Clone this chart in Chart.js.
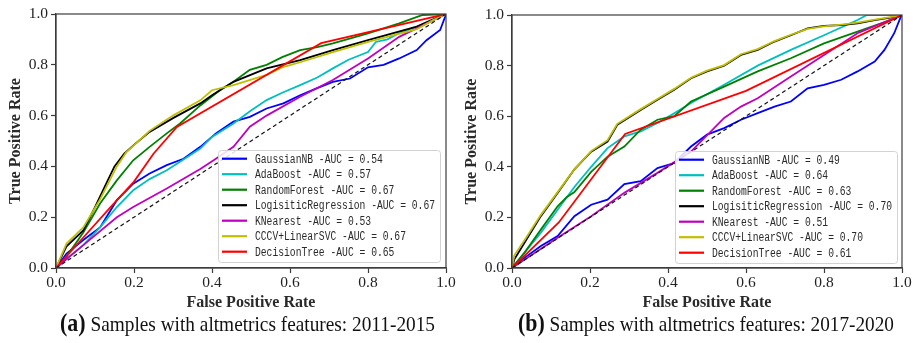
<!DOCTYPE html>
<html><head><meta charset="utf-8">
<script src="https://cdn.jsdelivr.net/npm/chart.js@4.4.0/dist/chart.umd.min.js"></script>
<style>
html,body{margin:0;padding:0;background:#fff;width:916px;height:343px;overflow:hidden;}
.panel{position:absolute;top:0;width:458px;height:312px;}
#pa{left:0} #pb{left:458px}
.cap{position:absolute;top:309px;white-space:nowrap;font-family:"Liberation Serif",serif;color:#111;transform-origin:0 0;line-height:28px;}
.cap b{font-size:25px;}
.cap span{font-size:22px;}
</style></head><body>
<div class="panel" id="pa"><canvas id="ca" width="458" height="312"></canvas></div>
<div class="panel" id="pb"><canvas id="cb" width="458" height="312"></canvas></div>
<div class="cap" id="capA"><b>(a)</b><span> Samples with altmetrics features: 2011-2015</span></div>
<div class="cap" id="capB"><b>(b)</b><span> Samples with altmetrics features: 2017-2020</span></div>
<script>
// ---------- data ----------
const modelNames = ['GaussianNB','AdaBoost','RandomForest','LogisiticRegression','KNearest','CCCV+LinearSVC','DecisionTree'];
const aucA = ['0.54','0.57','0.67','0.67','0.53','0.67','0.65'];
const aucB = ['0.49','0.64','0.63','0.70','0.51','0.70','0.61'];
const tickLabels = ['0.0','0.2','0.4','0.6','0.8','1.0'];
const diagFpr = [0,1];
const diagTpr = [0,1];

// panel (a) 2011-2015
const aGnbFpr = [0,0.027,0.07,0.113,0.156,0.198,0.24,0.284,0.327,0.37,0.41,0.455,0.497,0.54,0.583,0.626,0.668,0.71,0.754,0.80,0.84,0.88,0.925,0.95,0.985,0.998,1];
const aGnbTpr = [0,0.057,0.11,0.16,0.267,0.332,0.372,0.405,0.43,0.477,0.53,0.576,0.595,0.628,0.648,0.68,0.707,0.733,0.746,0.79,0.80,0.825,0.858,0.897,0.937,0.99,1];
const aAdaFpr = [0,0.03,0.07,0.113,0.156,0.198,0.24,0.284,0.33,0.37,0.40,0.455,0.50,0.54,0.58,0.626,0.67,0.71,0.75,0.80,0.82,0.85,0.88,0.925,0.96,1];
const aAdaTpr = [0,0.04,0.09,0.16,0.24,0.306,0.35,0.385,0.43,0.47,0.516,0.569,0.62,0.661,0.69,0.72,0.75,0.786,0.82,0.85,0.89,0.90,0.925,0.95,0.975,1];
const aRfFpr = [0,0.027,0.07,0.113,0.156,0.198,0.24,0.284,0.318,0.37,0.42,0.455,0.497,0.54,0.58,0.626,0.67,0.71,0.80,0.88,0.94,1];
const aRfTpr = [0,0.045,0.14,0.254,0.345,0.424,0.477,0.53,0.569,0.64,0.70,0.733,0.78,0.80,0.83,0.858,0.87,0.884,0.924,0.963,0.996,1];
const aLrFpr = [0,0.027,0.07,0.1,0.125,0.15,0.175,0.2,0.24,0.30,0.37,0.40,0.455,0.54,0.626,0.71,0.80,0.925,1];
const aLrTpr = [0,0.085,0.148,0.24,0.32,0.4,0.45,0.485,0.536,0.59,0.648,0.68,0.733,0.786,0.818,0.858,0.897,0.95,1];
const aKnnFpr = [0,0.07,0.156,0.198,0.284,0.37,0.41,0.455,0.497,0.54,0.626,0.71,0.80,0.88,1];
const aKnnTpr = [0,0.09,0.2,0.24,0.313,0.39,0.43,0.477,0.556,0.60,0.674,0.74,0.825,0.91,1];
const aSvcFpr = [0,0.027,0.07,0.113,0.156,0.18,0.24,0.30,0.37,0.40,0.455,0.54,0.58,0.626,0.71,0.80,0.925,0.967,1];
const aSvcTpr = [0,0.096,0.16,0.27,0.40,0.455,0.54,0.60,0.66,0.70,0.72,0.76,0.79,0.81,0.85,0.89,0.94,0.976,1];
const aDtFpr = [0,0.07,0.14,0.2,0.25,0.31,0.68,1];
const aDtTpr = [0,0.12,0.24,0.34,0.45,0.555,0.885,1];

// panel (b) 2017-2020
const bGnbFpr = [0,0.032,0.074,0.117,0.16,0.203,0.245,0.288,0.33,0.373,0.416,0.459,0.50,0.544,0.587,0.63,0.673,0.715,0.758,0.80,0.844,0.886,0.93,0.955,0.98,0.997,1];
const bGnbTpr = [0,0.04,0.087,0.126,0.205,0.25,0.27,0.332,0.343,0.395,0.415,0.48,0.527,0.553,0.586,0.612,0.638,0.658,0.71,0.724,0.744,0.777,0.816,0.862,0.928,0.993,1];
const bAdaFpr = [0,0.074,0.117,0.16,0.203,0.245,0.288,0.33,0.373,0.416,0.459,0.544,0.63,0.715,0.80,0.886,0.91,1];
const bAdaTpr = [0,0.14,0.23,0.32,0.40,0.474,0.52,0.54,0.573,0.612,0.652,0.724,0.80,0.862,0.92,0.98,1,1];
const bRfFpr = [0,0.032,0.074,0.117,0.14,0.16,0.203,0.245,0.288,0.33,0.373,0.416,0.459,0.544,0.63,0.715,0.80,0.886,0.97,1];
const bRfTpr = [0,0.06,0.152,0.244,0.28,0.30,0.38,0.44,0.48,0.547,0.586,0.60,0.658,0.717,0.777,0.829,0.888,0.934,0.98,1];
const bLrFpr = [0,0.006,0.032,0.074,0.117,0.16,0.203,0.245,0.27,0.33,0.373,0.416,0.459,0.50,0.544,0.587,0.63,0.673,0.715,0.758,0.80,0.844,0.886,0.93,0.97,1];
const bLrTpr = [0,0.034,0.1,0.205,0.297,0.39,0.46,0.50,0.566,0.625,0.665,0.705,0.75,0.777,0.80,0.842,0.862,0.895,0.92,0.947,0.957,0.96,0.967,0.98,0.99,1];
const bKnnFpr = [0,0.117,0.203,0.288,0.373,0.459,0.544,0.587,0.63,0.715,0.80,0.886,1];
const bKnnTpr = [0,0.12,0.205,0.297,0.376,0.46,0.593,0.638,0.671,0.757,0.842,0.928,1];
const bSvcFpr = [0,0.006,0.032,0.074,0.117,0.16,0.203,0.245,0.27,0.33,0.373,0.416,0.459,0.50,0.544,0.587,0.63,0.673,0.715,0.758,0.80,0.844,0.886,0.93,0.97,1];
const bSvcTpr = [0,0.05,0.11,0.21,0.30,0.39,0.462,0.505,0.57,0.628,0.668,0.708,0.752,0.78,0.802,0.845,0.865,0.897,0.922,0.945,0.955,0.962,0.97,0.982,0.992,1];
const bDtFpr = [0,0.12,0.29,0.6,1];
const bDtTpr = [0,0.18,0.53,0.70,1];

// ---------- styling ----------
const lineColors = ['#0000ff','#00bfbf','#008000','#000000','#bf00bf','#bfbf00','#ff0000'];
const serif = '"Liberation Serif","Times New Roman",serif';

function pts(xs, ys){ return xs.map((x,i)=>({x:x, y:ys[i]})); }

const framePlugin = {
  id:'frame',
  afterDatasetsDraw(chart, args, o){
    const ctx = chart.ctx, a = chart.chartArea;
    ctx.save();
    ctx.strokeStyle = '#3c3c3c'; ctx.lineWidth = 1.2;
    ctx.strokeRect(a.left, a.top, a.right-a.left, a.bottom-a.top);
    const bx = a.left + o.dx, by = a.top + o.dy;
    ctx.beginPath();
    ctx.roundRect(bx+0.5, by+0.5, o.w, o.h, 3);
    ctx.fillStyle = 'rgba(255,255,255,0.85)'; ctx.fill();
    ctx.strokeStyle = '#d2d2d2'; ctx.lineWidth = 1; ctx.stroke();
    ctx.font = '12.5px "Liberation Mono", monospace';
    const longest = o.labels[3];
    const sx = o.textW / ctx.measureText(longest).width;
    o.labels.forEach((lab, i) => {
      const cy = by + o.first + i*o.step;
      ctx.strokeStyle = lineColors[i]; ctx.lineWidth = 2.2; ctx.setLineDash([]);
      ctx.beginPath(); ctx.moveTo(bx+o.l0, cy); ctx.lineTo(bx+o.l1, cy); ctx.stroke();
      ctx.save();
      ctx.translate(bx+o.tx, cy); ctx.scale(sx, 1);
      ctx.fillStyle = '#2a2a2a'; ctx.textBaseline = 'middle'; ctx.textAlign = 'left';
      ctx.fillText(lab, 0, 0.5);
      ctx.restore();
    });
    ctx.restore();
  }
};

function makeChart(id, series, aucs, pad, yTitlePad){
  const labels = modelNames.map((n,i)=> n + ' -AUC = ' + aucs[i]);
  const datasets = series.map((s,i)=>({
    label: labels[i], data: pts(s[0], s[1]), borderColor: lineColors[i], borderWidth: 1.8,
    showLine: true, pointRadius: 0, fill: false, tension: 0, order: 8 - i
  }));
  datasets.push({label:'diag', data: pts(diagFpr, diagTpr), borderColor:'#111', borderWidth:1.2,
    borderDash:[4,3], showLine:true, pointRadius:0, order:0});
  const tickFont = {family: serif, size: 15.5};
  return new Chart(document.getElementById(id), {
    type:'scatter',
    data:{datasets},
    options:{
      responsive:false, animation:false, devicePixelRatio:1,
      layout:{padding:{left:0, right:pad.right, top:pad.top, bottom:0}},
      plugins:{
        legend:{display:false}, tooltip:{enabled:false},
        frame:{dx:pad.lx, dy:pad.ly, w:222, h:112, first:8.7, step:15.5, l0:4, l1:29, tx:37, textW:180, labels}
      },
      scales:{
        x:{type:'linear', min:0, max:1,
           ticks:{stepSize:0.2, color:'#222', font:tickFont, padding:1, maxRotation:0,
                  callback:(v,i)=>tickLabels[i]},
           grid:{drawOnChartArea:false, drawTicks:true, tickLength:5, color:'#3c3c3c', tickWidth:1.2},
           border:{display:true, color:'#3c3c3c', width:1.2},
           title:{display:true, text:'False Positive Rate', color:'#2a2a2a',
                  font:{family:serif, size:16, weight:'bold'}, padding:{top:0, bottom:0}},
           afterFit:(s)=>{ s.height = 312 - pad.bottomY; }
        },
        y:{type:'linear', min:0, max:1,
           ticks:{stepSize:0.2, color:'#222', font:tickFont, padding:3,
                  callback:(v,i)=>tickLabels[i]},
           grid:{drawOnChartArea:false, drawTicks:true, tickLength:5, color:'#3c3c3c', tickWidth:1.2},
           border:{display:true, color:'#3c3c3c', width:1.2},
           title:{display:true, text:'True Positive Rate', color:'#2a2a2a',
                  font:{family:serif, size:16, weight:'bold'}, padding:{top:yTitlePad, bottom:0}},
           afterFit:(s)=>{ s.width = pad.left; }
        }
      }
    },
    plugins:[framePlugin]
  });
}

makeChart('ca', [
  [aGnbFpr,aGnbTpr],[aAdaFpr,aAdaTpr],[aRfFpr,aRfTpr],[aLrFpr,aLrTpr],
  [aKnnFpr,aKnnTpr],[aSvcFpr,aSvcTpr],[aDtFpr,aDtTpr]
], aucA, {left:56, right:12, top:14, bottomY:268, lx:162, ly:136}, 6);

makeChart('cb', [
  [bGnbFpr,bGnbTpr],[bAdaFpr,bAdaTpr],[bRfFpr,bRfTpr],[bLrFpr,bLrTpr],
  [bKnnFpr,bKnnTpr],[bSvcFpr,bSvcTpr],[bDtFpr,bDtTpr]
], aucB, {left:54, right:14, top:15, bottomY:268, lx:163, ly:136}, 4);

function fitCap(id, left, right){
  const el = document.getElementById(id);
  el.style.left = left + 'px';
  const w = el.getBoundingClientRect().width;
  el.style.transform = 'scaleX(' + ((right-left)/w) + ')';
}
fitCap('capA', 60, 435);
fitCap('capB', 518, 894);
</script>
</body></html>
